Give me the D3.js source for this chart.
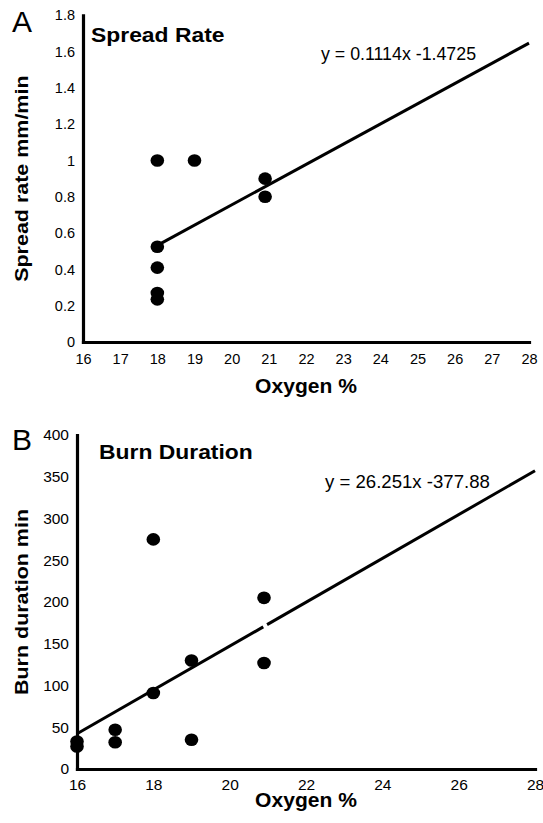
<!DOCTYPE html>
<html>
<head>
<meta charset="utf-8">
<script src="https://cdn.jsdelivr.net/npm/d3@7"></script>
<style>
  body { margin: 0; background: #fff; }
  text { font-family: "Liberation Sans", Arial, Helvetica, sans-serif; fill: #000; }
</style>
</head>
<body>
<div id="chart"></div>
<script>
// panel A - spread rate
const spreadOxygen = [18, 19, 20.9, 20.9, 18, 18, 18, 18]
const spreadRate = [1.0, 1.0, 0.9, 0.8, 0.525, 0.41, 0.27, 0.235]
const spreadFit = [0.1114, -1.4725] // slope, intercept
const spreadFitSegments = [[18, 28]]
const spreadXTicks = [16, 17, 18, 19, 20, 21, 22, 23, 24, 25, 26, 27, 28]
const spreadYTicks = [0, 0.2, 0.4, 0.6, 0.8, 1, 1.2, 1.4, 1.6, 1.8]

// panel B - burn duration
const burnOxygen = [16, 16, 17, 17, 18, 18, 19, 19, 20.9, 20.9]
const burnDuration = [33, 27, 47, 32, 91, 275, 130, 35, 205, 127]
const burnFit = [26.251, -377.88]
const burnFitSegments = [[16, 20.88], [20.98, 28]]
const burnXTicks = [16, 18, 20, 22, 24, 26, 28]
const burnYTicks = [0, 50, 100, 150, 200, 250, 300, 350, 400]

let svg = d3.select('#chart')
  .append('svg')
  .attr('width', 543)
  .attr('height', 823)

function drawPanel(opt) {
  let x = d3.scaleLinear().domain([16, 28]).range(opt.xRange)
  let y = d3.scaleLinear().domain(opt.yDomain).range(opt.yRange)
  let g = svg.append('g')

  let xAxis = d3.axisBottom(x)
    .tickValues(opt.xTicks)
    .tickSize(0)
    .tickSizeOuter(0)
    .tickPadding(opt.xPad)
  let yAxis = d3.axisLeft(y)
    .tickValues(opt.yTicks)
    .tickSize(0)
    .tickSizeOuter(0)
    .tickPadding(8)
    .tickFormat(d => String(d))

  g.append('g')
    .attr('transform', 'translate(0,' + opt.yRange[0] + ')')
    .call(xAxis)
    .attr('font-family', null)
    .attr('font-size', null)
    .selectAll('text')
    .style('font-size', opt.tickSize + 'px')
  g.append('g')
    .attr('transform', 'translate(' + opt.xRange[0] + ',0)')
    .call(yAxis)
    .attr('font-family', null)
    .attr('font-size', null)
    .selectAll('text')
    .style('font-size', opt.tickSize + 'px')

  g.selectAll('.domain')
    .attr('stroke', '#000')
    .attr('stroke-width', 3.2)
    .attr('stroke-linecap', 'square')

  // trend line
  let line = d3.line()
    .x(d => x(d))
    .y(d => y(opt.fit[0] * d + opt.fit[1]))
  g.selectAll('.fit')
    .data(opt.fitSegments)
    .enter()
    .append('path')
    .attr('class', 'fit')
    .attr('d', d => line(d))
    .attr('fill', 'none')
    .attr('stroke', '#000')
    .attr('stroke-width', 3)

  g.selectAll('.dot')
    .data(opt.xs)
    .enter()
    .append('ellipse')
    .attr('class', 'dot')
    .attr('cx', d => x(d))
    .attr('cy', (d, i) => y(opt.ys[i]))
    .attr('rx', 6.8)
    .attr('ry', 6.3)
    .attr('fill', '#000')

  // panel letter
  g.append('text')
    .attr('x', 12)
    .attr('y', opt.letterY)
    .style('font-size', '30px')
    .text(opt.letter)

  g.append('text')
    .attr('transform', 'translate(' + opt.titleX + ',' + opt.titleY + ') scale(1.09,1)')
    .style('font-size', '21px')
    .attr('font-weight', 'bold')
    .text(opt.title)

  g.append('text')
    .attr('x', opt.eqX)
    .attr('y', opt.eqY)
    .style('font-size', opt.eqSize + 'px')
    .text(opt.equation)

  let midX = (opt.xRange[0] + opt.xRange[1]) / 2
  let midY = (opt.yRange[0] + opt.yRange[1]) / 2
  g.append('text')
    .attr('transform', 'translate(' + midX + ',' + opt.xLabelY + ') scale(1.08,1)')
    .attr('text-anchor', 'middle')
    .style('font-size', '19.5px')
    .attr('font-weight', 'bold')
    .text('Oxygen %')
  g.append('text')
    .attr('transform', 'translate(28,' + midY + ') rotate(-90) scale(1.13,1)')
    .attr('text-anchor', 'middle')
    .style('font-size', '19px')
    .attr('font-weight', 'bold')
    .text(opt.yLabel)
}

drawPanel({
  xs: spreadOxygen, ys: spreadRate,
  fit: spreadFit, fitSegments: spreadFitSegments,
  xTicks: spreadXTicks, yTicks: spreadYTicks,
  xRange: [83, 529], yDomain: [0, 1.8], yRange: [342, 15.3],
  xPad: 12, tickSize: 14.5,
  letter: 'A', letterY: 32,
  title: 'Spread Rate', titleX: 91, titleY: 42,
  equation: 'y = 0.1114x -1.4725', eqX: 321, eqY: 60, eqSize: 17.8,
  xLabelY: 393, yLabel: 'Spread rate mm/min'
})

drawPanel({
  xs: burnOxygen, ys: burnDuration,
  fit: burnFit, fitSegments: burnFitSegments,
  xTicks: burnXTicks, yTicks: burnYTicks,
  xRange: [77, 535], yDomain: [0, 400], yRange: [769, 435],
  xPad: 10, tickSize: 15.5,
  letter: 'B', letterY: 450,
  title: 'Burn Duration', titleX: 99, titleY: 459,
  equation: 'y = 26.251x -377.88', eqX: 325, eqY: 488, eqSize: 18.6,
  xLabelY: 807, yLabel: 'Burn duration min'
})
</script>
</body>
</html>
